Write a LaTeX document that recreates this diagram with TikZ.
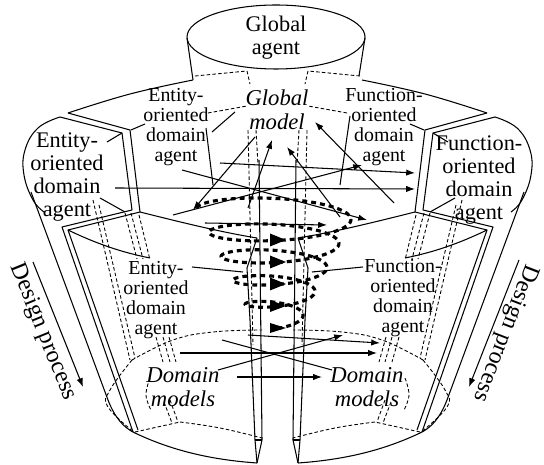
\documentclass[tikz,border=0pt]{standalone}
\usepackage{fontspec}
\setmainfont{Liberation Serif}
\usetikzlibrary{arrows.meta, calc, positioning}

\tikzset{
  lbl/.style={align=center, inner sep=0pt, font=\fontsize{11.3}{11.4}\selectfont},
  biglbl/.style={align=center, inner sep=0pt, font=\fontsize{12.7}{13.1}\selectfont},
  itlbl/.style={align=center, inner sep=0pt, font=\fontsize{12.9}{13.4}\selectfont\itshape},
  dplbl/.style={inner sep=0pt, font=\fontsize{13.6}{16}\selectfont},
  hid/.style={dash pattern=on 2pt off 1.3pt, line width=0.5pt},
  flow/.style={-{Latex[length=5pt,width=3.6pt]}, line width=0.6pt},
  helix/.style={line width=1.8pt, dash pattern=on 2.8pt off 2.3pt},
}

\begin{document}
\begin{tikzpicture}[x=0.02cm, y=-0.02cm, line width=0.6pt, line join=round]
\useasboundingbox (0,0) rectangle (544,465);

% global agent
\draw (276,37) ellipse [x radius=89, y radius=32];
\draw (187,38) -- (193,80);
\draw (365,38) -- (359,76);

% the two halves of the bucket
\foreach \s/\o in {1/0, -1/555} {
\begin{scope}[shift={(\o,0)}, xscale=\s]
  \draw plot[smooth, tension=.7] coordinates {(193,80) (130,94) (68,113)};
  \draw plot[smooth, tension=.7] coordinates {(60,117) (38,128) (25,150) (24,175) (33,200) (44,212)};
  \draw (68,113) -- (130,130) -- (140,212) -- (68,230) -- (138,430);
  \draw (60,117) -- (122,133) -- (132,210) -- (62,227) -- (133,432);
  \draw (31,192) -- (108,400) .. controls (115,418) and (124,428) .. (135,433);
  \draw (135,433) .. controls (175,452) and (215,460) .. (257,463);
  \draw (140,212) .. controls (180,222) and (220,232) .. (257,238);
  \draw (68,230) .. controls (95,243) and (120,252) .. (150,258);
  \draw (257,238) -- (247,268) -- (250,320) -- (255,440) -- (257,463);
  \draw (259,160) -- (262,440) -- (257,463);
  \draw (255,440) -- (262,440);
  % leaders
  \draw (131,130) -- (145,124);
  \draw (107,142) -- (122,133);
  \draw (100,198) -- (125,212);
  \draw (192,267) -- (243,272);
  % hidden edges
  \draw[hid] (195,76) -- (247,71) -- (250,84);
  \draw[hid] (208,113) -- (247,106);
  \draw[hid] (248,130) -- (253,345);
  \draw[hid] (256,130) -- (258,165);
  \draw[hid] (93,200) -- (130,360);
  \draw[hid] (99,205) -- (135,358);
  \draw[hid] (125,213) -- (137,259);
  \draw[hid] (131,213) -- (143,259);
  \draw[hid] (139,215) -- (150,260);
  \draw[hid] (156,337) -- (163,362);
  \draw[hid] (163,337) -- (170,362);
  \draw[hid] (169,337) -- (176,362);
  % domain models level
  \draw[hid] plot[smooth, tension=.7] coordinates {(132,360) (173,340) (213,332) (262,330)};
  \draw[hid] plot[smooth, tension=.7] coordinates {(132,360) (110,390) (108,407) (135,433)};
  \draw[hid] (135,432) -- (180,422);
  \draw[hid] plot[smooth, tension=.7] coordinates {(180,422) (220,428) (262,438)};
  \draw[hid] (170,400) -- (178,422);
  \draw[hid] (164,402) -- (172,423);
  \draw[hid] plot[smooth, tension=.7] coordinates {(150,378) (146,395) (151,410)};
\end{scope}
}

% leaders of the upper labels
\draw (206,128) -- (213,185);
\draw (212,132) -- (235,112);
\draw (350,116) -- (340,185);

% agent interaction
\draw[flow] (115,188) -- (415,189);
\draw[flow] (220,163) -- (415,173);
\draw[flow] (255,137) -- (193,210);
\draw[flow] (248,208) -- (272,140);
\draw[flow] (340,217) -- (287,147);
\draw[flow] (394,203) -- (315,122);
\draw[flow] (173,215) -- (362,165);
\draw[flow] (182,170) -- (367,220);
\draw[flow] (205,223) -- (327,225);

% spiral through the levels
\draw[helix] plot[domain=0:4.8, samples=240, variable=\t]
  ({277-(80-12*\t)*cos(360*\t)}, {208+24*\t-(16-2*\t)*sin(360*\t)});
\foreach \y/\w in {240/6.5, 262/6.5, 284/6.5, 306/6, 328/5}
  \fill (270,{\y-\w}) -- (286,\y) -- (270,{\y+\w}) -- cycle;

% domain models interaction
\draw[flow] (248,335) -- (380,343);
\draw[flow] (180,353) -- (377,353);
\draw[flow] (237,377) -- (322,377);
\draw[flow] (218,370) -- (343,335);
\draw (222,340) -- (332,370);

% design process
\draw[flow] (33,262) -- (83,387);
\draw[flow] (519,260) -- (469,387);

\node (gagent) [biglbl] at (276,38) {Global\\agent};
\node (gmodel) [itlbl] at (277,110) {Global\\model};
\node (entTop) [lbl] at (176,127) {Entity-\\oriented\\domain\\agent};
\node (funTop) [lbl] at (384,127) {Function-\\oriented\\domain\\agent};
\node (entOut) [biglbl] at (67,177) {Entity-\\oriented\\domain\\agent};
\node (funOut) [biglbl] at (479,180) {Function-\\oriented\\domain\\agent};
\node (entMid) [lbl] at (156,300) {Entity-\\oriented\\domain\\agent};
\node (funMid) [lbl] at (403,298) {Function-\\oriented\\domain\\agent};
\node (domL) [itlbl] at (183,387) {Domain\\models};
\node (domR) [itlbl] at (367,387) {Domain\\models};
\node (dpL) [dplbl, rotate=-68] at (43,332) {Design process};
\node (dpR) [dplbl, rotate=-111] at (505,333) {Design process};
\end{tikzpicture}
\end{document}
